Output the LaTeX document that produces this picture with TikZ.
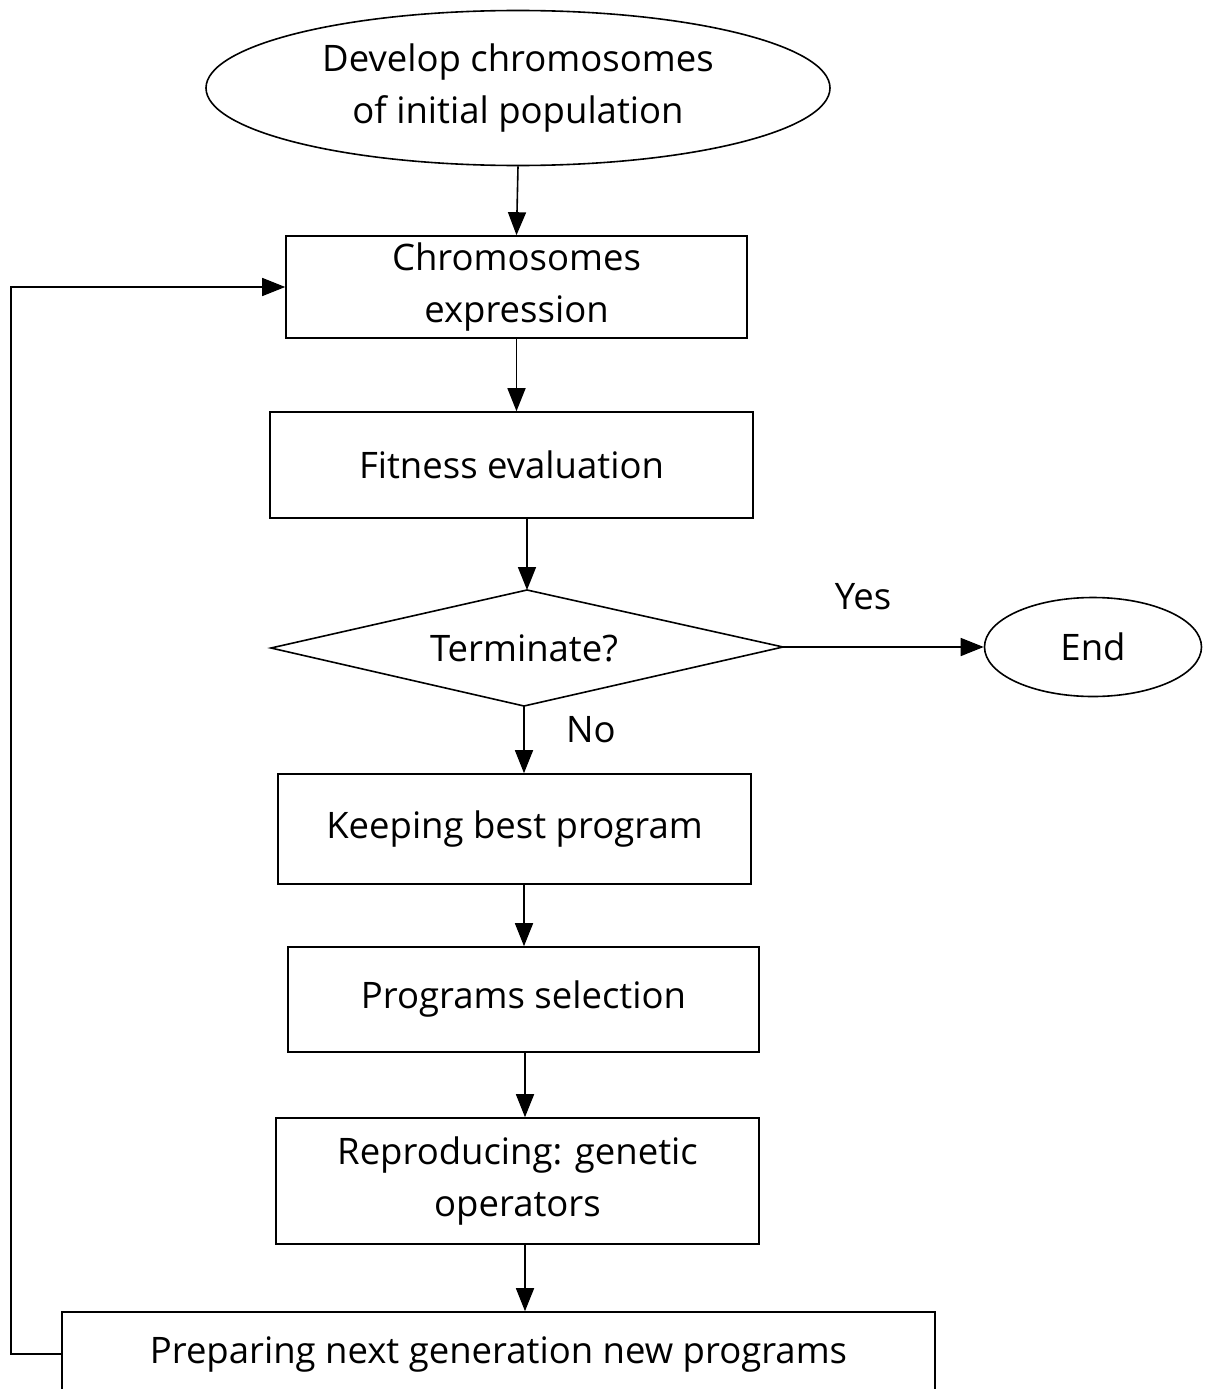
\documentclass[tikz,border=0pt]{standalone}
\usepackage{fontspec}
\setmainfont{Open Sans}
\usetikzlibrary{shapes.geometric,arrows.meta,calc}
\begin{document}
\begin{tikzpicture}[x=1pt,y=-1pt,
  txt/.style={font=\fontsize{36.5}{52}\selectfont,align=center},
  box/.style={txt,draw,line width=1.6pt,rectangle,inner sep=0pt},
  oval/.style={txt,draw,line width=1.6pt,ellipse,inner sep=0pt},
  arr/.style={-{Triangle[length=23pt,width=18pt]},line width=1.6pt}]
\clip (0,0) rectangle (1210,1389);
\useasboundingbox (0,0) rectangle (1210,1389);
\node[oval,minimum width=624pt,minimum height=155pt] (e0) at (518,88) {Develop chromosomes\\of initial population};
\node[box,minimum width=461pt,minimum height=102pt] (b1) at (516.5,287) {Chromosomes\\expression};
\node[box,minimum width=483pt,minimum height=106pt] (b2) at (511.5,465) {Fitness evaluation};
% decision diamond
\coordinate (dN) at (527,590);
\coordinate (dS) at (524,706);
\coordinate (dE) at (783,647);
\coordinate (dW) at (271,648);
\draw[line width=1.6pt,line join=miter] (dN) -- (dE) -- (dS) -- (dW) -- cycle;
\node[txt] (d) at (524,648) {Terminate?};
\node[oval,minimum width=217pt,minimum height=99pt] (end) at (1093,647) {End};
\node[box,minimum width=473pt,minimum height=110pt] (b3) at (514.5,829) {Keeping best program};
\node[box,minimum width=471pt,minimum height=105pt] (b4) at (523.5,999.5) {Programs selection};
\node[box,minimum width=483pt,minimum height=126pt] (b5) at (517.5,1181) {Reproducing: genetic\\operators};
\node[box,minimum width=873pt,minimum height=84pt] (b6) at (498.5,1354) {Preparing next generation new programs};
\node[txt] (yes) at (863,597) {Yes};
\node[txt] (no) at (591,730) {No};
\coordinate (cx) at (525,0);
\draw[arr] (e0.south) -- (b1.north);
\draw[arr] (b1.south) -- (b1.south |- b2.north);
\draw[arr] (b2.south -| dN) -- (dN);
\draw[arr] (dE) -- (end.west);
\draw[arr] (dS) -- (dS |- b3.north);
\draw[arr] (b3.south -| dS) -- (b4.north -| dS);
\draw[arr] (b4.south -| cx) -- (b5.north -| cx);
\draw[arr] (b5.south -| cx) -- (b6.north -| cx);
\draw[arr] (b6.west) -- ++(-50,0) |- (b1.west);
\end{tikzpicture}
\end{document}
